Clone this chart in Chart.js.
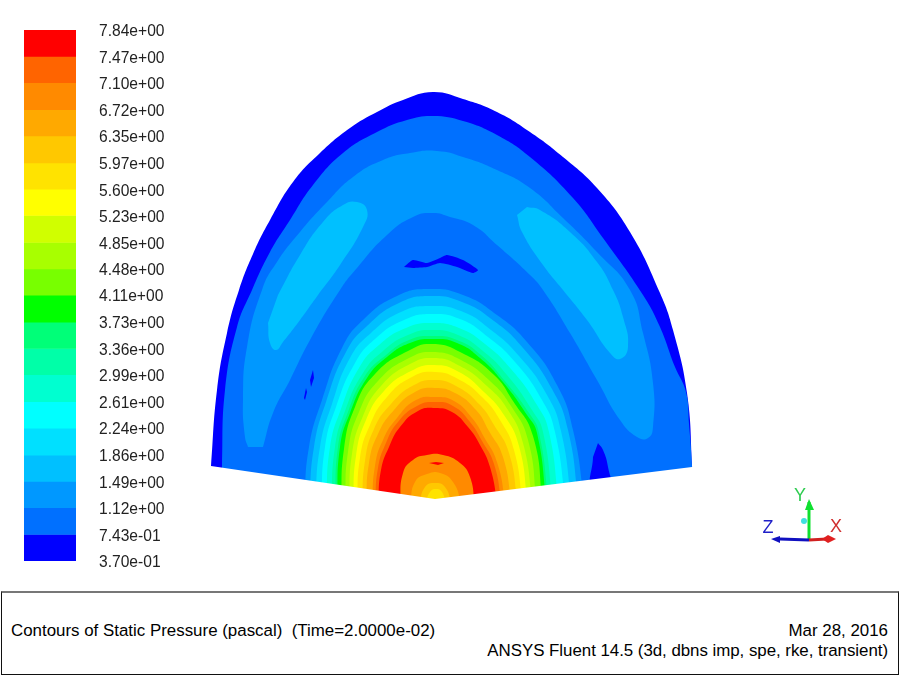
<!DOCTYPE html>
<html>
<head>
<meta charset="utf-8">
<script src="https://cdn.jsdelivr.net/npm/chart.js@4"></script>
<style>
html,body{margin:0;padding:0;background:#fff;width:900px;height:675px;overflow:hidden}
canvas{position:absolute;left:0;top:0}
#box{position:absolute;left:1px;top:591px;width:896px;height:81px;border:1px solid #111;border-top:2px solid #777;font-family:"Liberation Sans",Arial,sans-serif;font-size:16.9px;color:#000;white-space:pre}
#box div{position:absolute;line-height:19px}
</style>
</head>
<body>
<canvas id="contour" width="900" height="590" style="width:900px;height:590px"></canvas>
<canvas id="bar" width="200" height="585" style="width:200px;height:585px"></canvas>
<div id="box">
<div style="left:9px;top:28px">Contours of Static Pressure (pascal)  (Time=2.0000e-02)</div>
<div style="right:10px;top:28px">Mar 28, 2016</div>
<div style="right:10px;top:48px;letter-spacing:-0.04px">ANSYS Fluent 14.5 (3d, dbns imp, spe, rke, transient)</div>
</div>
<script>
// colour-bar levels (pascal), top to bottom
const levels = [7.84,7.47,7.10,6.72,6.35,5.97,5.60,5.23,4.85,4.48,4.11,3.73,3.36,2.99,2.61,2.24,1.86,1.49,1.12,0.743,0.370];
const levelLabels = ['7.84e+00','7.47e+00','7.10e+00','6.72e+00','6.35e+00','5.97e+00','5.60e+00','5.23e+00','4.85e+00','4.48e+00','4.11e+00','3.73e+00','3.36e+00','2.99e+00','2.61e+00','2.24e+00','1.86e+00','1.49e+00','1.12e+00','7.43e-01','3.70e-01'];
const bandColors = ['#ff0000','#ff6400','#ff8a00','#ffa900','#ffc800','#ffe300','#ffff00','#d0ff00','#a8ff00','#78ff00','#00ff00','#00ff78','#00ffa8','#00ffd0','#00ffff','#00e0ff','#00c0ff','#0098ff','#0070ff','#0000ff'];

// contour outlines: [x, y] model units, origin at the wedge apex
const domainOutline = [[-224,33],[-218,109],[-208,166],[-196,209],[-182,245],[-165,279],[-142,317],[-115,346],[-85,371],[-58,387],[-32,399],[-2,407],[28,400],[62,387],[95,367],[128,342],[162,311],[195,267],[225,206],[238,169],[252,106],[257,33],[257,10],[-224,10]];
const band19Region = [[-213,10],[-213,34],[-210,109],[-198,172],[-183,209],[-165,247],[-145,279],[-122,314],[-92,346],[-58,367],[-28,379],[-2,383],[28,378],[62,364],[95,342],[138,301],[168,261],[208,204],[225,172],[240,132],[251,107],[254,75],[257,33],[257,10]];
const band18Horseshoe = [[-187,52],[-190,62],[-192,99],[-188,152],[-173,209],[-158,237],[-135,267],[-108,297],[-82,322],[-52,339],[-25,346],[2,348],[28,342],[62,329],[95,311],[128,281],[162,247],[195,209],[208,166],[218,116],[218,72],[213,61],[202,62],[185,79],[162,119],[135,166],[108,209],[95,224],[62,254],[38,274],[15,282],[-2,286],[-22,282],[-48,264],[-78,231],[-95,209],[-125,159],[-145,119],[-162,86],[-172,52]];
const band17LobeLeft = [[-157,204],[-135,244],[-112,277],[-92,294],[-78,297],[-68,289],[-72,272],[-95,234],[-117,204],[-135,179],[-152,157],[-159,149],[-165,156],[-167,176]];
const band17LobeRight = [[92,292],[105,289],[135,267],[162,237],[178,209],[188,182],[193,152],[185,140],[175,146],[152,179],[128,209],[108,234],[87,267],[82,284]];
const lowPatchTop = [[-31,232],[-22,239],[-8,236],[5,241],[12,244],[28,239],[43,229],[38,226],[22,232],[5,236],[-8,232],[-22,231]];
const lowPatchLeftA = [[-122,129],[-121,121],[-124,112],[-125,119]];
const lowPatchLeftB = [[-129,111],[-128,107],[-130,99],[-131,101]];
const lowPatchRight = [[163,56],[168,49],[173,32],[175,10],[157,10],[158,42]];

const dome18 = [[-131,-6],[-126,52],[-113,99],[-93,151],[-72,179],[-38,203],[-6,210],[28,204],[62,184],[92,157],[122,114],[138,69],[150,-6]];
const dome17 = [[-126,-6],[-121,52],[-109,97],[-89,147],[-68,173],[-36,196],[-5,203],[27,197],[59,178],[88,151],[117,110],[133,69],[144,-6]];
const dome16 = [[-120,-6],[-115,52],[-103,95],[-85,141],[-64,166],[-34,187],[-5,193],[26,188],[56,169],[84,143],[112,104],[126,68],[137,-6]];
const dome15 = [[-114,-6],[-110,52],[-99,92],[-80,136],[-60,160],[-31,179],[-4,185],[25,180],[53,162],[80,137],[107,99],[120,67],[131,-6]];
const dome14 = [[-109,-6],[-105,52],[-94,90],[-76,131],[-56,154],[-29,171],[-3,176],[24,171],[50,155],[76,130],[102,94],[114,67],[124,-6]];
const dome13 = [[-104,-6],[-100,52],[-90,88],[-72,126],[-52,148],[-27,164],[-3,169],[23,164],[48,148],[72,124],[97,89],[108,67],[118,-6]];
const dome12 = [[-100,-6],[-97,52],[-87,87],[-70,123],[-49,144],[-26,159],[-2,163],[22,159],[46,144],[69,119],[94,86],[104,66],[114,-6]];
const dome11 = [[-98,-6],[-95,52],[-85,86],[-68,121],[-48,142],[-25,156],[-2,160],[22,156],[45,141],[68,117],[92,84],[102,66],[112,-6]];
const dome10 = [[-94,-6],[-91,50],[-80,92],[-60,125],[-27,148],[-2,155],[27,146],[58,125],[78,98],[98,63],[108,-6]];
const dome9 = [[-90,-6],[-87,47],[-76,87],[-57,118],[-26,141],[-2,147],[26,139],[55,118],[76,93],[93,59],[102,-6]];
const dome8 = [[-86,-6],[-83,45],[-72,83],[-54,113],[-25,135],[-1,141],[25,133],[52,113],[73,89],[88,56],[98,-6]];
const dome7 = [[-82,-6],[-79,43],[-69,79],[-51,108],[-24,128],[-1,134],[24,127],[49,107],[69,84],[84,53],[93,-6]];
const dome6 = [[-78,-6],[-75,41],[-65,74],[-48,102],[-23,122],[0,127],[23,120],[47,102],[65,79],[79,49],[88,-6]];
const dome5 = [[-73,-6],[-70,38],[-61,70],[-44,95],[-21,114],[0,119],[21,113],[44,95],[59,74],[74,46],[83,-6]];
const dome4 = [[-69,-6],[-66,36],[-57,65],[-41,89],[-20,107],[0,111],[20,106],[41,89],[54,68],[68,42],[77,-6]];
const dome3 = [[-63,-6],[-60,33],[-52,59],[-38,81],[-19,99],[0,102],[19,98],[37,81],[49,62],[62,37],[71,-6]];
const dome2 = [[-60,-6],[-57,31],[-49,56],[-37,77],[-18,93],[0,97],[18,93],[35,77],[47,58],[59,35],[67,-6]];
const dome1 = [[-57,-6],[-54,29],[-46,52],[-35,72],[-17,88],[0,91],[17,87],[33,72],[45,54],[55,32],[63,-6]];
const core3 = [[-35,-6],[-32,26],[-22,39],[-8,44],[8,44],[25,36],[35,22],[40,-6]];
const coreSliver = [[-6,36],[1,37],[9,36],[3,34]];
const core4 = [[-25,-6],[-20,17],[-8,25],[5,26],[18,17],[27,-6]];
const core5 = [[-16,-6],[-10,12],[0,16],[10,12],[17,-6]];
const core6 = [[-10,-6],[-5,7],[1,10],[7,7],[11,-6]];
const belowWedge = [[-260,33],[-224,33],[0,0],[257,32],[280,32],[280,-40],[-260,-40]];

// coordinate triad
const triadAxisY = [[374,-41],[374,-3]];
const triadHeadY = [[370,-11],[374,0],[379,-11]];
const triadAxisZ = [[374,-41],[345,-40]];
const triadHeadZ = [[345,-37],[336,-40],[345,-44]];
const triadAxisX = [[374,-41],[392,-40]];
const triadHeadX = [[387,-40],[393,-36],[401,-40],[393,-44]];
const triadDot = [[369,-22]];
const triadNames = ['Y','Z','X'];
const triadNameX = [365,333,401];
const triadNameY = [3,-29,-28];
const triadNameColors = ['#2ecc50','#2020c8','#d03030'];

const toPts = a => a.map(p => ({x:p[0], y:p[1]}));
function shape(pts, color, tension){
  return {data:toPts(pts), showLine:true, fill:'shape', backgroundColor:color, borderColor:color, borderWidth:0, pointRadius:0, tension:tension===undefined?0.5:tension, clip:false};
}
function stroke(pts, color, w){
  return {data:toPts(pts), showLine:true, fill:false, borderColor:color, borderWidth:w, pointRadius:0, tension:0, clip:false};
}
const c = n => bandColors[n-1];
const painted = [
  shape(domainOutline, c(20), 0.45),
  shape(band19Region, c(19), 0.45),
  shape(band18Horseshoe, c(18)),
  shape(band17LobeLeft, c(17)),
  shape(band17LobeRight, c(17)),
  shape(lowPatchTop, c(20), 0.2),
  shape(lowPatchLeftA, c(20), 0),
  shape(lowPatchLeftB, c(20), 0),
  shape(lowPatchRight, c(20)),
  shape(dome18, c(18)), shape(dome17, c(17)), shape(dome16, c(16)), shape(dome15, c(15)),
  shape(dome14, c(14)), shape(dome13, c(13)), shape(dome12, c(12)), shape(dome11, c(11)),
  shape(dome10, c(10)), shape(dome9, c(9)), shape(dome8, c(8)), shape(dome7, c(7)),
  shape(dome6, c(6)), shape(dome5, c(5)), shape(dome4, c(4)), shape(dome3, c(3)),
  shape(dome2, c(2)), shape(dome1, c(1)),
  shape(core3, c(3)), shape(coreSliver, c(1), 0), shape(core4, c(4)), shape(core5, c(5)), shape(core6, c(6)),
  shape(belowWedge, '#ffffff', 0),
  stroke(triadAxisY, '#10e030', 3), shape(triadHeadY, '#10e030', 0),
  stroke(triadAxisZ, '#1010c0', 3), shape(triadHeadZ, '#1010c0', 0),
  stroke(triadAxisX, '#d02020', 3), shape(triadHeadX, '#e02020', 0),
  {data:toPts(triadDot), showLine:false, pointRadius:3, pointBackgroundColor:'#40e0e0', pointBorderWidth:0, clip:false}
];

const triadLabelPlugin = {
  id:'triadLabels',
  afterDatasetsDraw(chart){
    const {ctx, scales:{x, y}} = chart;
    ctx.save();
    ctx.font = '18px "Liberation Sans", Arial, sans-serif';
    ctx.textAlign = 'center';
    ctx.textBaseline = 'middle';
    triadNames.forEach((t,i) => {
      ctx.fillStyle = triadNameColors[i];
      ctx.fillText(t, x.getPixelForValue(triadNameX[i]), y.getPixelForValue(triadNameY[i]));
    });
    ctx.restore();
  }
};

new Chart(document.getElementById('contour'), {
  type:'scatter',
  data:{datasets:painted.slice().reverse()},
  options:{
    responsive:false, animation:false, events:[],
    layout:{padding:0, autoPadding:false},
    plugins:{legend:{display:false}, tooltip:{enabled:false}, title:{display:false}},
    scales:{
      x:{type:'linear', display:false, min:-435, max:465},
      y:{type:'linear', display:false, min:-91, max:499}
    }
  },
  plugins:[triadLabelPlugin]
});

new Chart(document.getElementById('bar'), {
  type:'bar',
  data:{
    labels:['p'],
    datasets:bandColors.map((col,i) => ({
      data:[[levels[i+1], levels[i]]],
      backgroundColor:col, borderWidth:0,
      barPercentage:1, categoryPercentage:1, grouped:false
    }))
  },
  options:{
    responsive:false, animation:false, events:[],
    layout:{padding:{left:24, top:30, bottom:24, right:0}, autoPadding:false},
    plugins:{legend:{display:false}, tooltip:{enabled:false}},
    scales:{
      x:{display:false},
      y:{
        type:'linear', position:'right', min:0.37, max:7.84,
        grid:{display:false, drawTicks:false}, border:{display:false},
        afterFit(s){ s.width = 124; s.paddingTop = 0; s.paddingBottom = 0; },
        afterBuildTicks(s){ s.ticks = levels.map(v => ({value:v})); },
        ticks:{
          padding:23, labelOffset:2, autoSkip:false, maxRotation:0, color:'#222',
          font:{family:'"Liberation Sans", Arial, sans-serif', size:15.6},
          callback(v,i){ return levelLabels[i]; }
        }
      }
    }
  }
});
</script>
</body>
</html>
